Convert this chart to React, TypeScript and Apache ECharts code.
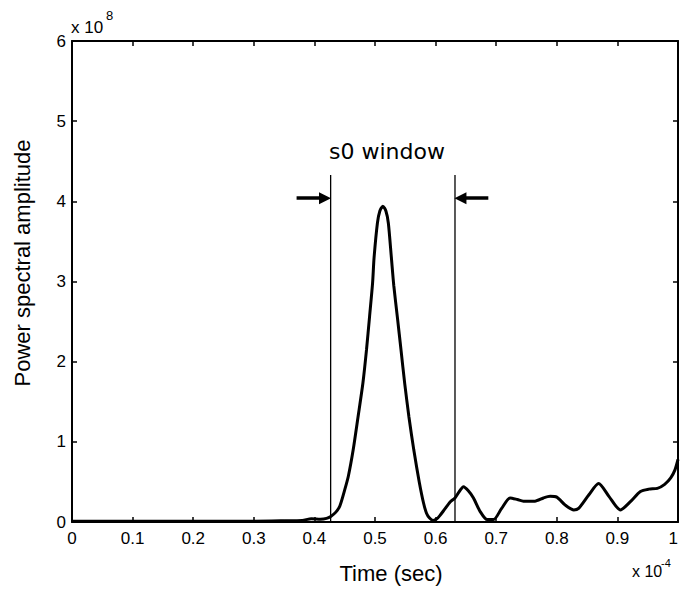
import React, { useEffect, useRef } from "react";
import * as echarts from "echarts";

// Time in units of 1e-4 s, amplitude in units of 1e8
const TIME = [
  0, 0.05, 0.1, 0.15, 0.2, 0.25, 0.3, 0.35, 0.38, 0.395, 0.41, 0.42, 0.427, 0.435, 0.442, 0.45,
  0.456, 0.464, 0.472, 0.48, 0.486, 0.491, 0.496, 0.4985, 0.504, 0.508, 0.513, 0.518, 0.522, 0.527,
  0.531, 0.537, 0.543, 0.549, 0.556, 0.564, 0.573, 0.58, 0.585, 0.59, 0.596, 0.602, 0.607, 0.615,
  0.624, 0.632, 0.64, 0.646, 0.654, 0.6625, 0.6736, 0.685, 0.6955, 0.709, 0.723, 0.735, 0.745,
  0.764, 0.778, 0.789, 0.8, 0.814, 0.828, 0.836, 0.853, 0.869, 0.886, 0.905, 0.921, 0.938, 0.952,
  0.966, 0.978, 0.988, 0.995, 1.0,
];
const AMP = [
  0.01, 0.01, 0.01, 0.01, 0.01, 0.01, 0.01, 0.015, 0.02, 0.04, 0.035, 0.045, 0.07, 0.12, 0.2, 0.4,
  0.57, 0.9, 1.31, 1.73, 2.15, 2.56, 2.98, 3.3, 3.73, 3.88, 3.94, 3.88, 3.73, 3.3,
  2.95, 2.55, 2.14, 1.73, 1.31, 0.9, 0.5, 0.24, 0.11, 0.05, 0.02, 0.04, 0.08, 0.16,
  0.25, 0.3, 0.39, 0.44, 0.39, 0.3, 0.13, 0.03, 0.03, 0.17, 0.3, 0.28, 0.26,
  0.26, 0.3, 0.32, 0.31, 0.21, 0.15, 0.17, 0.34, 0.48, 0.32, 0.15, 0.25, 0.38, 0.41,
  0.42, 0.47, 0.55, 0.65, 0.78,
];
const WINDOW_EDGES = [0.4268, 0.632];
const WINDOW_TOP = 4.33;
const ARROW_LEVEL = 4.04;
const LEFT_ARROW = [0.3706, 0.4175];
const RIGHT_ARROW = [0.687, 0.641];
const X_TICKS = { min: 0, max: 1, interval: 0.1 };
const Y_TICKS = { min: 0, max: 6, interval: 1 };

const FONT = "'Liberation Sans', Arial, sans-serif";

export default function App() {
  const ref = useRef<HTMLDivElement>(null);
  useEffect(() => {
    if (!ref.current) return;
    const chart = echarts.init(ref.current, undefined, { renderer: "svg" });
    const axisLine = { onZero: false, lineStyle: { color: "#000", width: 2 } };
    const axisTick = { inside: true, length: 5, lineStyle: { color: "#000", width: 1.5 } };
    const label = { color: "#000", fontSize: 17, fontFamily: FONT };
    const curve = TIME.map((t, i) => [t, AMP[i]]);
    const edgeSeries = WINDOW_EDGES.map((x) => ({
      type: "line",
      data: [
        [x, 0],
        [x, WINDOW_TOP],
      ],
      symbol: "none",
      lineStyle: { color: "#000", width: 1.3 },
      silent: true,
      z: 3,
    }));
    chart.setOption({
      animation: false,
      backgroundColor: "#fff",
      grid: {
        left: 72,
        top: 41,
        width: 606,
        height: 481,
        containLabel: false,
        outerBoundsMode: "none",
      },
      xAxis: [
        {
          type: "value",
          position: "bottom",
          ...X_TICKS,
          axisLine,
          axisTick,
          axisLabel: { ...label, margin: 8, alignMaxLabel: "right" },
          splitLine: { show: false },
        },
        {
          type: "value",
          position: "top",
          ...X_TICKS,
          axisLine,
          axisTick,
          axisLabel: { show: false },
          splitLine: { show: false },
        },
      ],
      yAxis: [
        {
          type: "value",
          position: "left",
          ...Y_TICKS,
          axisLine,
          axisTick,
          axisLabel: { ...label, margin: 6 },
          splitLine: { show: false },
        },
        {
          type: "value",
          position: "right",
          ...Y_TICKS,
          axisLine,
          axisTick,
          axisLabel: { show: false },
          splitLine: { show: false },
        },
      ],
      series: [
        {
          type: "line",
          data: curve,
          symbol: "none",
          smooth: 0.25,
          lineStyle: { color: "#000", width: 3 },
          z: 4,
          markLine: {
            silent: true,
            symbol: ["none", "triangle"],
            symbolSize: [12, 12],
            label: { show: false },
            lineStyle: { color: "#000", width: 3.5, type: "solid" },
            data: [
              [
                { coord: [LEFT_ARROW[0], ARROW_LEVEL] },
                { coord: [LEFT_ARROW[1], ARROW_LEVEL] },
              ],
              [
                { coord: [RIGHT_ARROW[0], ARROW_LEVEL] },
                { coord: [RIGHT_ARROW[1], ARROW_LEVEL] },
              ],
            ],
          },
        },
        ...edgeSeries,
      ],
      graphic: [
        {
          type: "text",
          x: 22,
          y: 263,
          rotation: Math.PI / 2,
          style: {
            text: "Power spectral amplitude",
            fill: "#000",
            font: `22px ${FONT}`,
            textAlign: "center",
            textVerticalAlign: "middle",
          },
        },
        {
          type: "text",
          x: 391,
          y: 573,
          style: {
            text: "Time (sec)",
            fill: "#000",
            font: `22px ${FONT}`,
            textAlign: "center",
            textVerticalAlign: "middle",
          },
        },
        {
          type: "text",
          x: 71,
          y: 27,
          style: { text: "x 10", fill: "#000", font: `17px ${FONT}`, textAlign: "left", textVerticalAlign: "middle" },
        },
        {
          type: "text",
          x: 106,
          y: 15,
          style: { text: "8", fill: "#000", font: `13px ${FONT}`, textAlign: "left", textVerticalAlign: "middle" },
        },
        {
          type: "text",
          x: 632,
          y: 571,
          style: { text: "x 10", fill: "#000", font: `16px ${FONT}`, textAlign: "left", textVerticalAlign: "middle" },
        },
        {
          type: "text",
          x: 661,
          y: 563,
          style: { text: "-4", fill: "#000", font: `11px ${FONT}`, textAlign: "left", textVerticalAlign: "middle" },
        },
        {
          type: "text",
          x: 387,
          y: 151,
          style: {
            text: "s0 window",
            fill: "#000",
            font: `22px 'DejaVu Sans', sans-serif`,
            textAlign: "center",
            textVerticalAlign: "middle",
          },
        },
      ],
    });
    return () => chart.dispose();
  }, []);
  return (
    <div
      ref={ref}
      style={{ position: "absolute", left: 0, top: 0, width: 680, height: 590, background: "#fff" }}
    />
  );
}
